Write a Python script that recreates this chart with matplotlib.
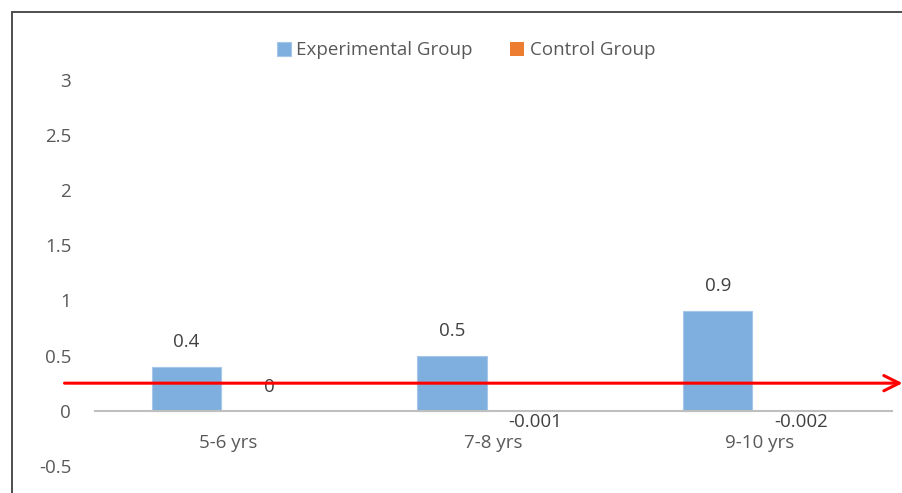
import matplotlib
matplotlib.use("Agg")
from matplotlib import pyplot as plt
from matplotlib.patches import Rectangle
import numpy as np

plt.rcParams["font.family"] = ["Open Sans", "DejaVu Sans"]

categories = ["5-6 yrs", "7-8 yrs", "9-10 yrs"]
experimental = [0.4, 0.5, 0.9]
control = [0, -0.001, -0.002]
exp_labels = ["0.4", "0.5", "0.9"]
ctl_labels = ["0", "-0.001", "-0.002"]
yticks = [-0.5, 0, 0.5, 1, 1.5, 2, 2.5, 3]
threshold = 0.25

text_grey = "#595959"
blue = "#7FAFDE"
orange = "#ED7D31"
fs = 13.5

fig = plt.figure(figsize=(9.03, 4.93), dpi=100)
ax = fig.add_axes([0.105, 0.055, 0.883, 0.783])

x = np.arange(len(categories))
width = 0.26
offset = 0.156

bars_exp = ax.bar(x - offset, experimental, width, color=blue, edgecolor="#A6C7EA",
                  linewidth=0.8, label="Experimental Group", zorder=2)
bars_ctl = ax.bar(x + offset, control, width, color=orange, linewidth=0,
                  label="Control Group", zorder=2)

# value labels above the bars (below for negative values)
for xi, v, s in zip(x - offset, experimental, exp_labels):
    ax.annotate(s, (xi, v), xytext=(0, 18), textcoords="offset points",
                ha="center", va="center", fontsize=fs, color="#404040")
for xi, v, s in zip(x + offset, control, ctl_labels):
    dy = 17 if v >= 0 else -8
    ax.annotate(s, (xi, v), xytext=(0, dy), textcoords="offset points",
                ha="center", va="center", fontsize=fs, color="#404040")

# category axis sits on the zero line
for name in ["top", "right", "left"]:
    ax.spines[name].set_visible(False)
ax.spines["bottom"].set_position(("data", 0))
ax.spines["bottom"].set_color("#BFBFBF")
ax.spines["bottom"].set_linewidth(1.5)

ax.set_xlim(-0.5, 2.5)
ax.set_ylim(-0.5, 3)
ax.set_yticks(yticks)
ax.set_yticklabels([f"{t:g}" for t in yticks])
ax.set_xticks(x)
ax.set_xticklabels(categories)
ax.tick_params(axis="y", length=0, pad=17, labelsize=fs, labelcolor=text_grey)
ax.tick_params(axis="x", length=0, pad=17, labelsize=fs, labelcolor=text_grey)

# red arrow marking the threshold level
ax.annotate("", xy=(1.013, threshold), xytext=(-0.038, threshold),
            xycoords=("axes fraction", "data"), textcoords=("axes fraction", "data"),
            arrowprops=dict(arrowstyle="->,head_length=1.1,head_width=0.55",
                            color="red", lw=2.2, shrinkA=0, shrinkB=0),
            annotation_clip=False, zorder=5)

leg = fig.legend(handles=[bars_exp, bars_ctl], loc="center", bbox_to_anchor=(0.516, 0.898),
                 ncol=2, frameon=False, fontsize=fs, handlelength=0.75, handleheight=0.75,
                 handletextpad=0.3, columnspacing=2.0)
for t in leg.get_texts():
    t.set_color(text_grey)

# outer frame
fig.patches.append(Rectangle((12 / 903, -0.05), 1.1, 1.05 - 12 / 493, transform=fig.transFigure,
                             fill=False, edgecolor="#404040", linewidth=1.3))

fig.savefig("out.png", dpi=100, facecolor="white")
